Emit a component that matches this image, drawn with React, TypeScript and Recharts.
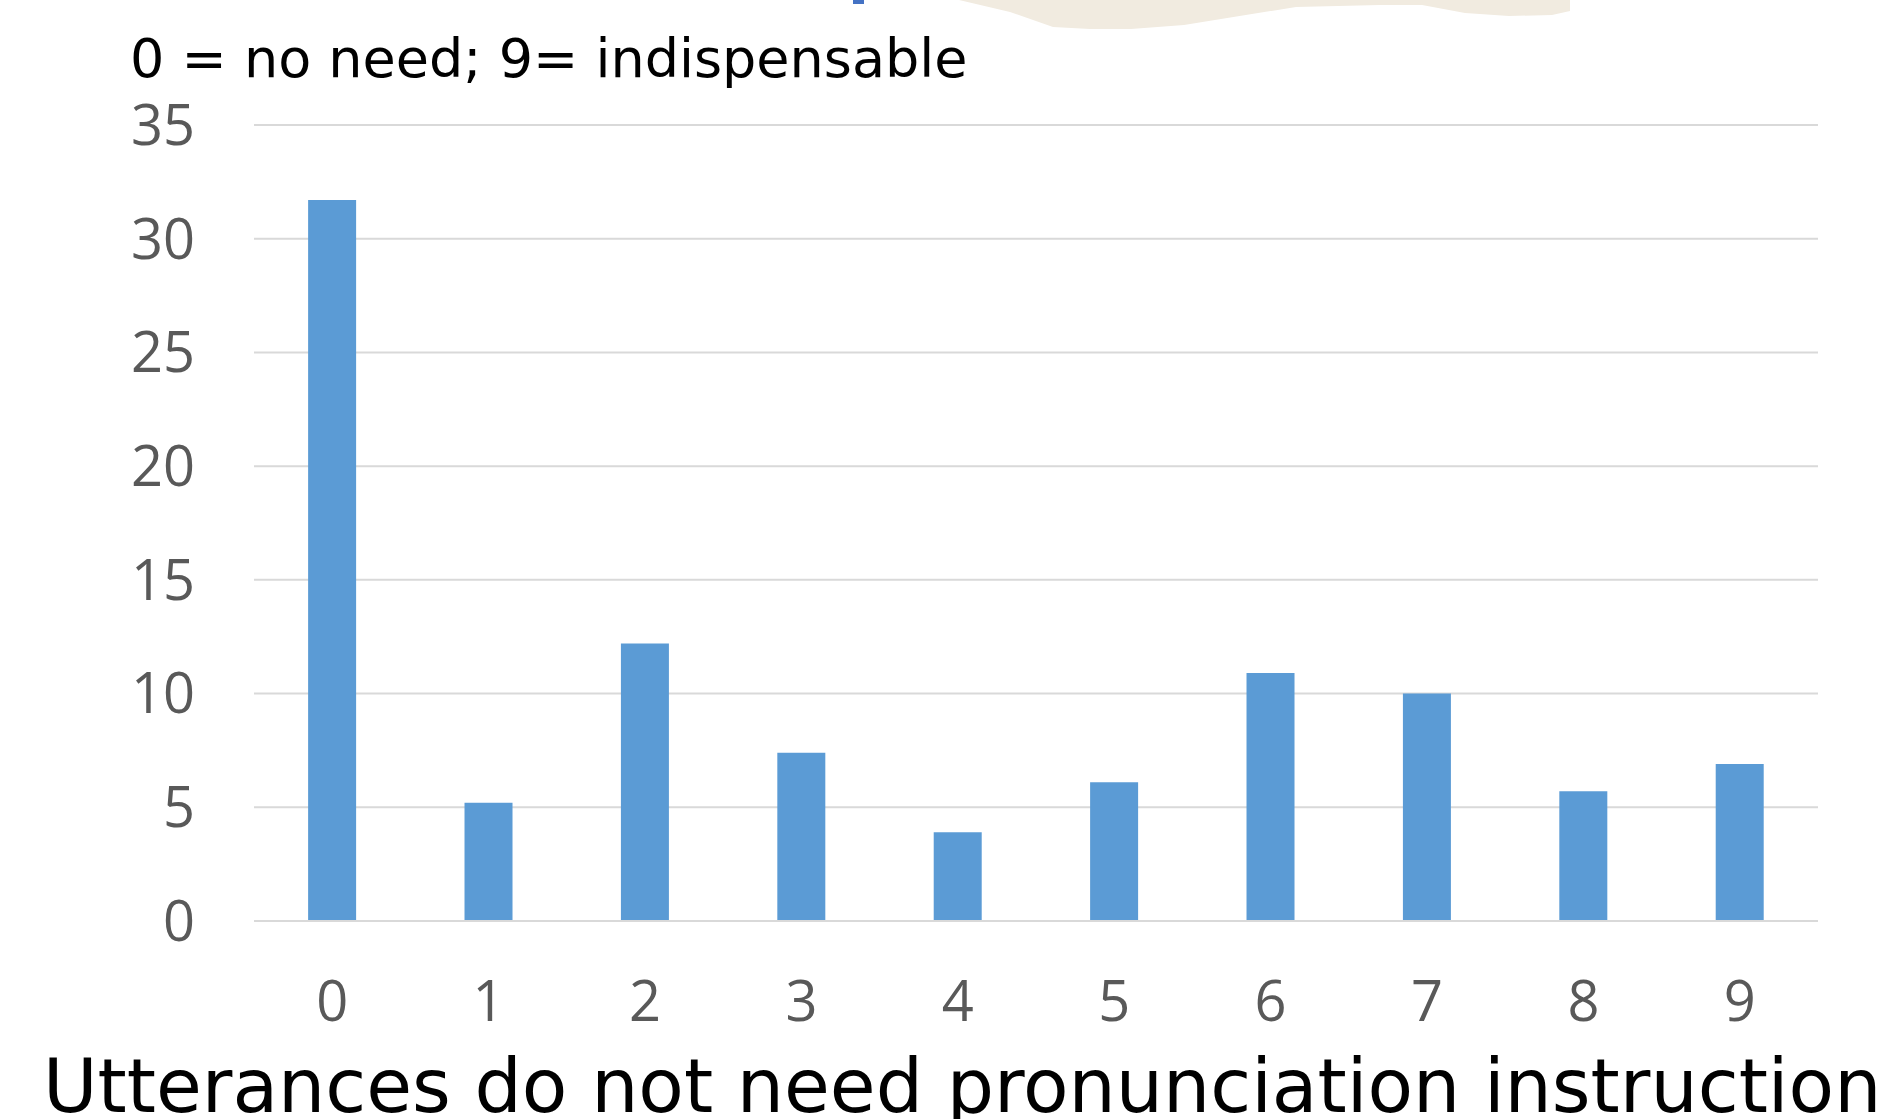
import React from 'react';
import { BarChart, Bar, XAxis, YAxis, CartesianGrid } from 'recharts';

// ratings 0..9 and share of answers for each
const RATINGS = ['0', '1', '2', '3', '4', '5', '6', '7', '8', '9'];
const SHARES = [31.7, 5.2, 12.2, 7.4, 3.9, 6.1, 10.9, 10.0, 5.7, 6.9];
const Y_TICKS = [0, 5, 10, 15, 20, 25, 30, 35];

const SUBTITLE = '0 = no need; 9= indispensable';
const TITLE = 'Utterances do not need pronunciation instruction';

const W = 1880;
const H = 1119;

const App: React.FC = () => {
  const data = RATINGS.map((r, i) => ({ rating: r, share: SHARES[i] }));

  return (
    <div style={{ position: 'absolute', left: 0, top: 0, width: W, height: H, background: '#fff', overflow: 'hidden' }}>
      <BarChart
        width={W}
        height={H}
        data={data}
        margin={{ top: 125, right: 62, bottom: 0, left: 0 }}
        barCategoryGap="34.6%"
      >
        <CartesianGrid vertical={false} stroke="#d9d9d9" strokeWidth={2} />
        <XAxis
          dataKey="rating"
          axisLine={{ stroke: '#d9d9d9', strokeWidth: 2 }}
          tickLine={false}
          tickSize={0}
          tickMargin={60}
          tick={{ fill: '#595959', fontSize: 56, fontFamily: 'Open Sans' }}
          height={198}
        />
        <YAxis
          domain={[0, 35]}
          ticks={Y_TICKS}
          axisLine={false}
          tickLine={false}
          tickSize={0}
          tickMargin={59}
          width={254}
          tick={{ fill: '#595959', fontSize: 56, fontFamily: 'Open Sans' }}
        />
        <Bar dataKey="share" fill="#5b9bd5" isAnimationActive={false} />
      </BarChart>

      {/* slide decoration + texts */}
      <svg width={W} height={H} style={{ position: 'absolute', left: 0, top: 0, pointerEvents: 'none' }}>
        <path
          d="M959,0 L1010,12 L1053,27 L1090,29 L1131,29 L1184,25 L1296,7 L1380,5 L1422,5 L1465,13 L1509,16 L1552,15 L1570,11 L1570,0 Z"
          fill="#f1ebe0"
        />
        <rect x={853} y={0} width={11} height={4} fill="#4472c4" />
        <text x={130} y={77} fontFamily="DejaVu Sans" fontSize={54} fill="#000">
          {SUBTITLE}
        </text>
        <text x={43} y={1112} fontFamily="DejaVu Sans" fontSize={74.5} fill="#000">
          {TITLE}
        </text>
      </svg>
    </div>
  );
};

export default App;
